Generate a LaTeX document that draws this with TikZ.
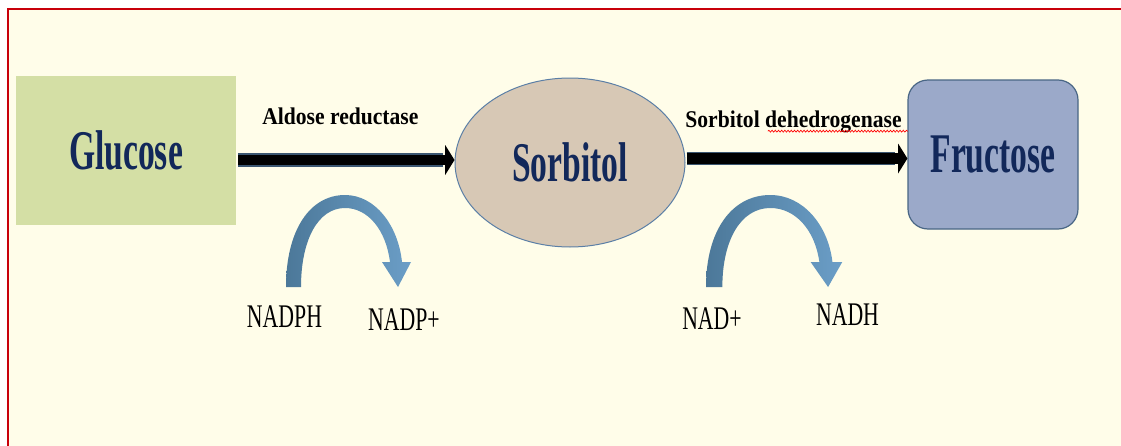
\documentclass[tikz,border=0pt]{standalone}
\usepackage{fontspec}
\setmainfont{Liberation Serif}
\newfontfamily\namefont[FakeStretch=0.6]{Liberation Serif}
\newfontfamily\enzfont[FakeStretch=0.9]{Liberation Serif}
\newfontfamily\cofont[FakeStretch=0.66]{Liberation Serif}
\usetikzlibrary{arrows.meta,shapes.geometric,calc,decorations.pathmorphing}
\definecolor{paper}{HTML}{FFFDE9}
\definecolor{framered}{HTML}{C8000A}
\definecolor{navy}{HTML}{12285A}
\definecolor{glucfill}{HTML}{D4DFA5}
\definecolor{sorbfill}{HTML}{D7C8B5}
\definecolor{frucfill}{HTML}{9BA9C9}
\definecolor{rim}{HTML}{5B7FA6}
\definecolor{curldark}{HTML}{4C7899}
\definecolor{curllight}{HTML}{6B9EC7}
\definecolor{shaft}{HTML}{3B5670}
\tikzset{framed/.style={fill=paper, draw=framered, line width=1.5pt},
  sugar/.style={text=navy, inner sep=0pt, font=\namefont\bfseries\fontsize{42pt}{44pt}\selectfont},
  enzyme/.style={anchor=base, inner sep=0pt, font=\enzfont\bfseries\fontsize{18pt}{20pt}\selectfont},
  cofactor/.style={anchor=base, inner sep=0pt, font=\cofont\fontsize{24.75pt}{26pt}\selectfont},
  reaction/.style={draw=black, line width=7.9pt, -{Triangle[length=7pt, width=22.5pt, line width=0pt]}, preaction={-, draw=shaft, line width=10pt, shorten >=9pt}},
  spell/.style={draw=red, line width=0.5pt, decorate, decoration={snake, amplitude=0.7pt, segment length=2.4pt}},
  curl/.pic={\shade[left color=curldark, right color=curllight]
    (0,0) .. controls (0,-57) and (24,-92) .. (59,-92) .. controls (89,-92) and (112,-62) .. (116,-25)
    -- (125,-25) -- (112,0) -- (96,-25) -- (104,-25)
    .. controls (100,-57) and (82,-79) .. (59,-79) .. controls (32,-79) and (15,-47) .. (15,0) -- cycle;}}

\begin{document}
\begin{tikzpicture}[x=0.75pt, y=-0.75pt]
    \useasboundingbox (0,0) rectangle (1121,446);
    \clip (0,0) rectangle (1121,446);
    \draw[framed] (8,9) rectangle (1140,470);
    \node[sugar, fill=glucfill, minimum width=165pt, minimum height=112pt] (glu) at (126,150.5) {Glucose};
    \node[sugar, ellipse, fill=sorbfill, draw=rim, line width=0.75pt, minimum width=172.5pt, minimum height=126.75pt] (sor) at (570,162.5) {Sorbitol};
    \node[sugar, fill=frucfill, draw=rim!80!black, line width=0.9pt, rounded corners=15pt, minimum width=127.5pt, minimum height=111.75pt] (fru) at (993,154.5) {Fructose};
    \coordinate (g1) at ($(glu.east)+(2,9.5)$);
    \coordinate (s1) at ($(sor.east)+(1,-4)$);
    \draw[reaction] (g1) -- (g1 -| sor.west) node[enzyme, midway, xshift=-4.5pt, yshift=27pt] (ar) {Aldose reductase};
    \draw[reaction] (s1) -- (s1 -| fru.west) node[enzyme, midway, xshift=-2.6pt, yshift=23.5pt] (sdh) {Sorbitol dehedrogenase};
    \draw[spell] ($(sdh.base east)+(-139,4)$) -- ($(sdh.base east)+(1,4)$);
    \pic at (286,287) {curl};
    \pic[xscale=1.09] at (706,287) {curl};
    \node[cofactor] (nadph) at (284.5,327) {NADPH};
    \node[cofactor] (nadp) at (404,330) {NADP+};
    \node[cofactor] (nad) at (712,329) {NAD+};
    \node[cofactor] (nadh) at (847.5,325) {NADH};
\end{tikzpicture}
\end{document}
